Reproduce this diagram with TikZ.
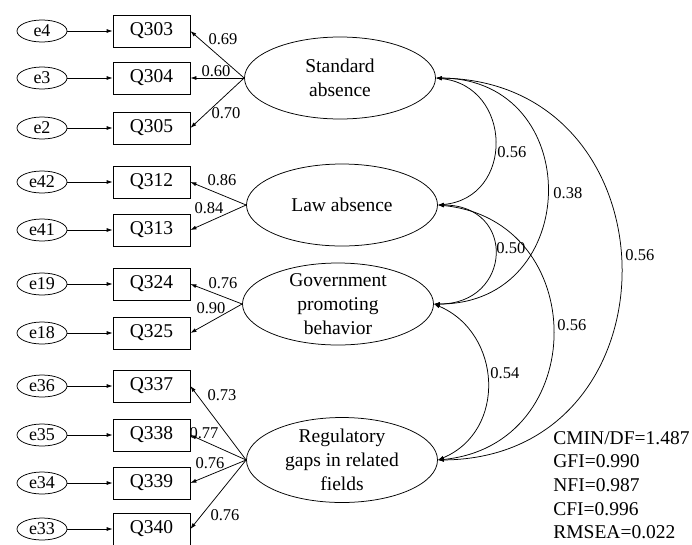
\documentclass[tikz,border=0pt]{standalone}
\usepackage{fontspec}
\setmainfont{Liberation Serif}
\usetikzlibrary{shapes.geometric,arrows.meta}
\begin{document}
\begin{tikzpicture}[x=1pt,y=-1pt,
  line width=0.75pt,
  tip/.style={-{Latex[length=6pt,width=4pt]}},
  cov/.style={{Latex[length=6pt,width=4pt]}-{Latex[length=6pt,width=4pt]}},
  errnode/.style={draw,ellipse,minimum width=50pt,minimum height=22pt,inner sep=0pt,font=\fontsize{18}{20}\selectfont},
  obsbox/.style={draw,rectangle,minimum width=77pt,minimum height=32pt,inner sep=0pt,font=\fontsize{19.5}{22}\selectfont},
  latent/.style={draw,ellipse,minimum width=191pt,minimum height=82pt,inner sep=0pt},
  lattext/.style={align=center,inner sep=0pt,font=\fontsize{19.5}{24}\selectfont},
  coef/.style={inner sep=0pt,font=\fontsize{16.5}{18}\selectfont},
]
\useasboundingbox (0,0) rectangle (692,544);

% observed variables and errors
\foreach \e/\q/\y in {e4/Q303/31, e3/Q304/78, e2/Q305/128, e42/Q312/182, e41/Q313/230,
  e19/Q324/284, e18/Q325/333, e36/Q337/386, e35/Q338/435, e34/Q339/483, e33/Q340/529}{
  \node[errnode] (\e) at (42,\y) {\e};
  \node[obsbox] (\q) at (151.5,\y) {\q};
  \draw[tip] (\e) -- (\q);
}

% latent variables
\node[latent] (std) at (340,78) {};
\node[lattext] (stdt) at (std.center) {Standard\\absence};
\node[latent] (law) at (342,205) {};
\node[lattext] (lawt) at (law.center) {Law absence};
\node[latent] (gov) at (338,304) {};
\node[lattext] (govt) at (gov.center) {Government\\promoting\\behavior};
\node[latent,minimum height=85pt] (reg) at (342,460) {};
\node[lattext] (regt) at (reg.center) {Regulatory\\gaps in related\\fields};

% loadings
\draw[tip] (std.west) -- (Q303.east);
\draw[tip] (std.west) -- (Q304.east);
\draw[tip] (std.west) -- (Q305.east);
\draw[tip] (law.west) -- (Q312.east);
\draw[tip] (law.west) -- (Q313.east);
\draw[tip] (gov.west) -- (Q324.east);
\draw[tip] (gov.west) -- (Q325.east);
\draw[tip] (reg.west) -- (Q337.east);
\draw[tip] (reg.west) -- (Q338.east);
\draw[tip] (reg.west) -- (Q339.east);
\draw[tip] (reg.west) -- (Q340.east);

\node[coef] (c1) at (223,39) {0.69};
\node[coef] (c2) at (216,71) {0.60};
\node[coef] (c3) at (226,113) {0.70};
\node[coef] (c4) at (222,180) {0.86};
\node[coef] (c5) at (209,208) {0.84};
\node[coef] (c6) at (223,283) {0.76};
\node[coef] (c7) at (211,308) {0.90};
\node[coef] (c8) at (222,395) {0.73};
\node[coef] (c9) at (204,433) {0.77};
\node[coef] (c10) at (210,463) {0.76};
\node[coef] (c11) at (225,515) {0.76};

% covariances
\draw[cov] (std.east) .. controls (513,86) and (515,198) .. (law.east);
\draw[cov] (std.east) .. controls (586,79) and (583,304) .. (gov.east);
\draw[cov] (std.east) .. controls (681,81) and (683,458) .. (reg.east);
\draw[cov] (law.east) .. controls (517,205) and (512,304) .. (gov.east);
\draw[cov] (law.east) .. controls (591,220) and (591,445) .. (reg.east);
\draw[cov] (gov.east) .. controls (502,333) and (507,431) .. (reg.east);

\node[coef,anchor=west] (k1) at (497,152) {0.56};
\node[coef,anchor=west] (k2) at (553,193) {0.38};
\node[coef,anchor=west] (k3) at (625,255) {0.56};
\node[coef,anchor=west] (k4) at (496,248) {0.50};
\node[coef,anchor=west] (k5) at (557,325) {0.56};
\node[coef,anchor=west] (k6) at (490,373) {0.54};

% fit indices
\node[anchor=north west,align=left,inner sep=0pt,font=\fontsize{19.5}{23.6}\selectfont] (fit) at (553,431)
  {CMIN/DF=1.487\\GFI=0.990\\NFI=0.987\\CFI=0.996\\RMSEA=0.022};
\end{tikzpicture}
\end{document}
